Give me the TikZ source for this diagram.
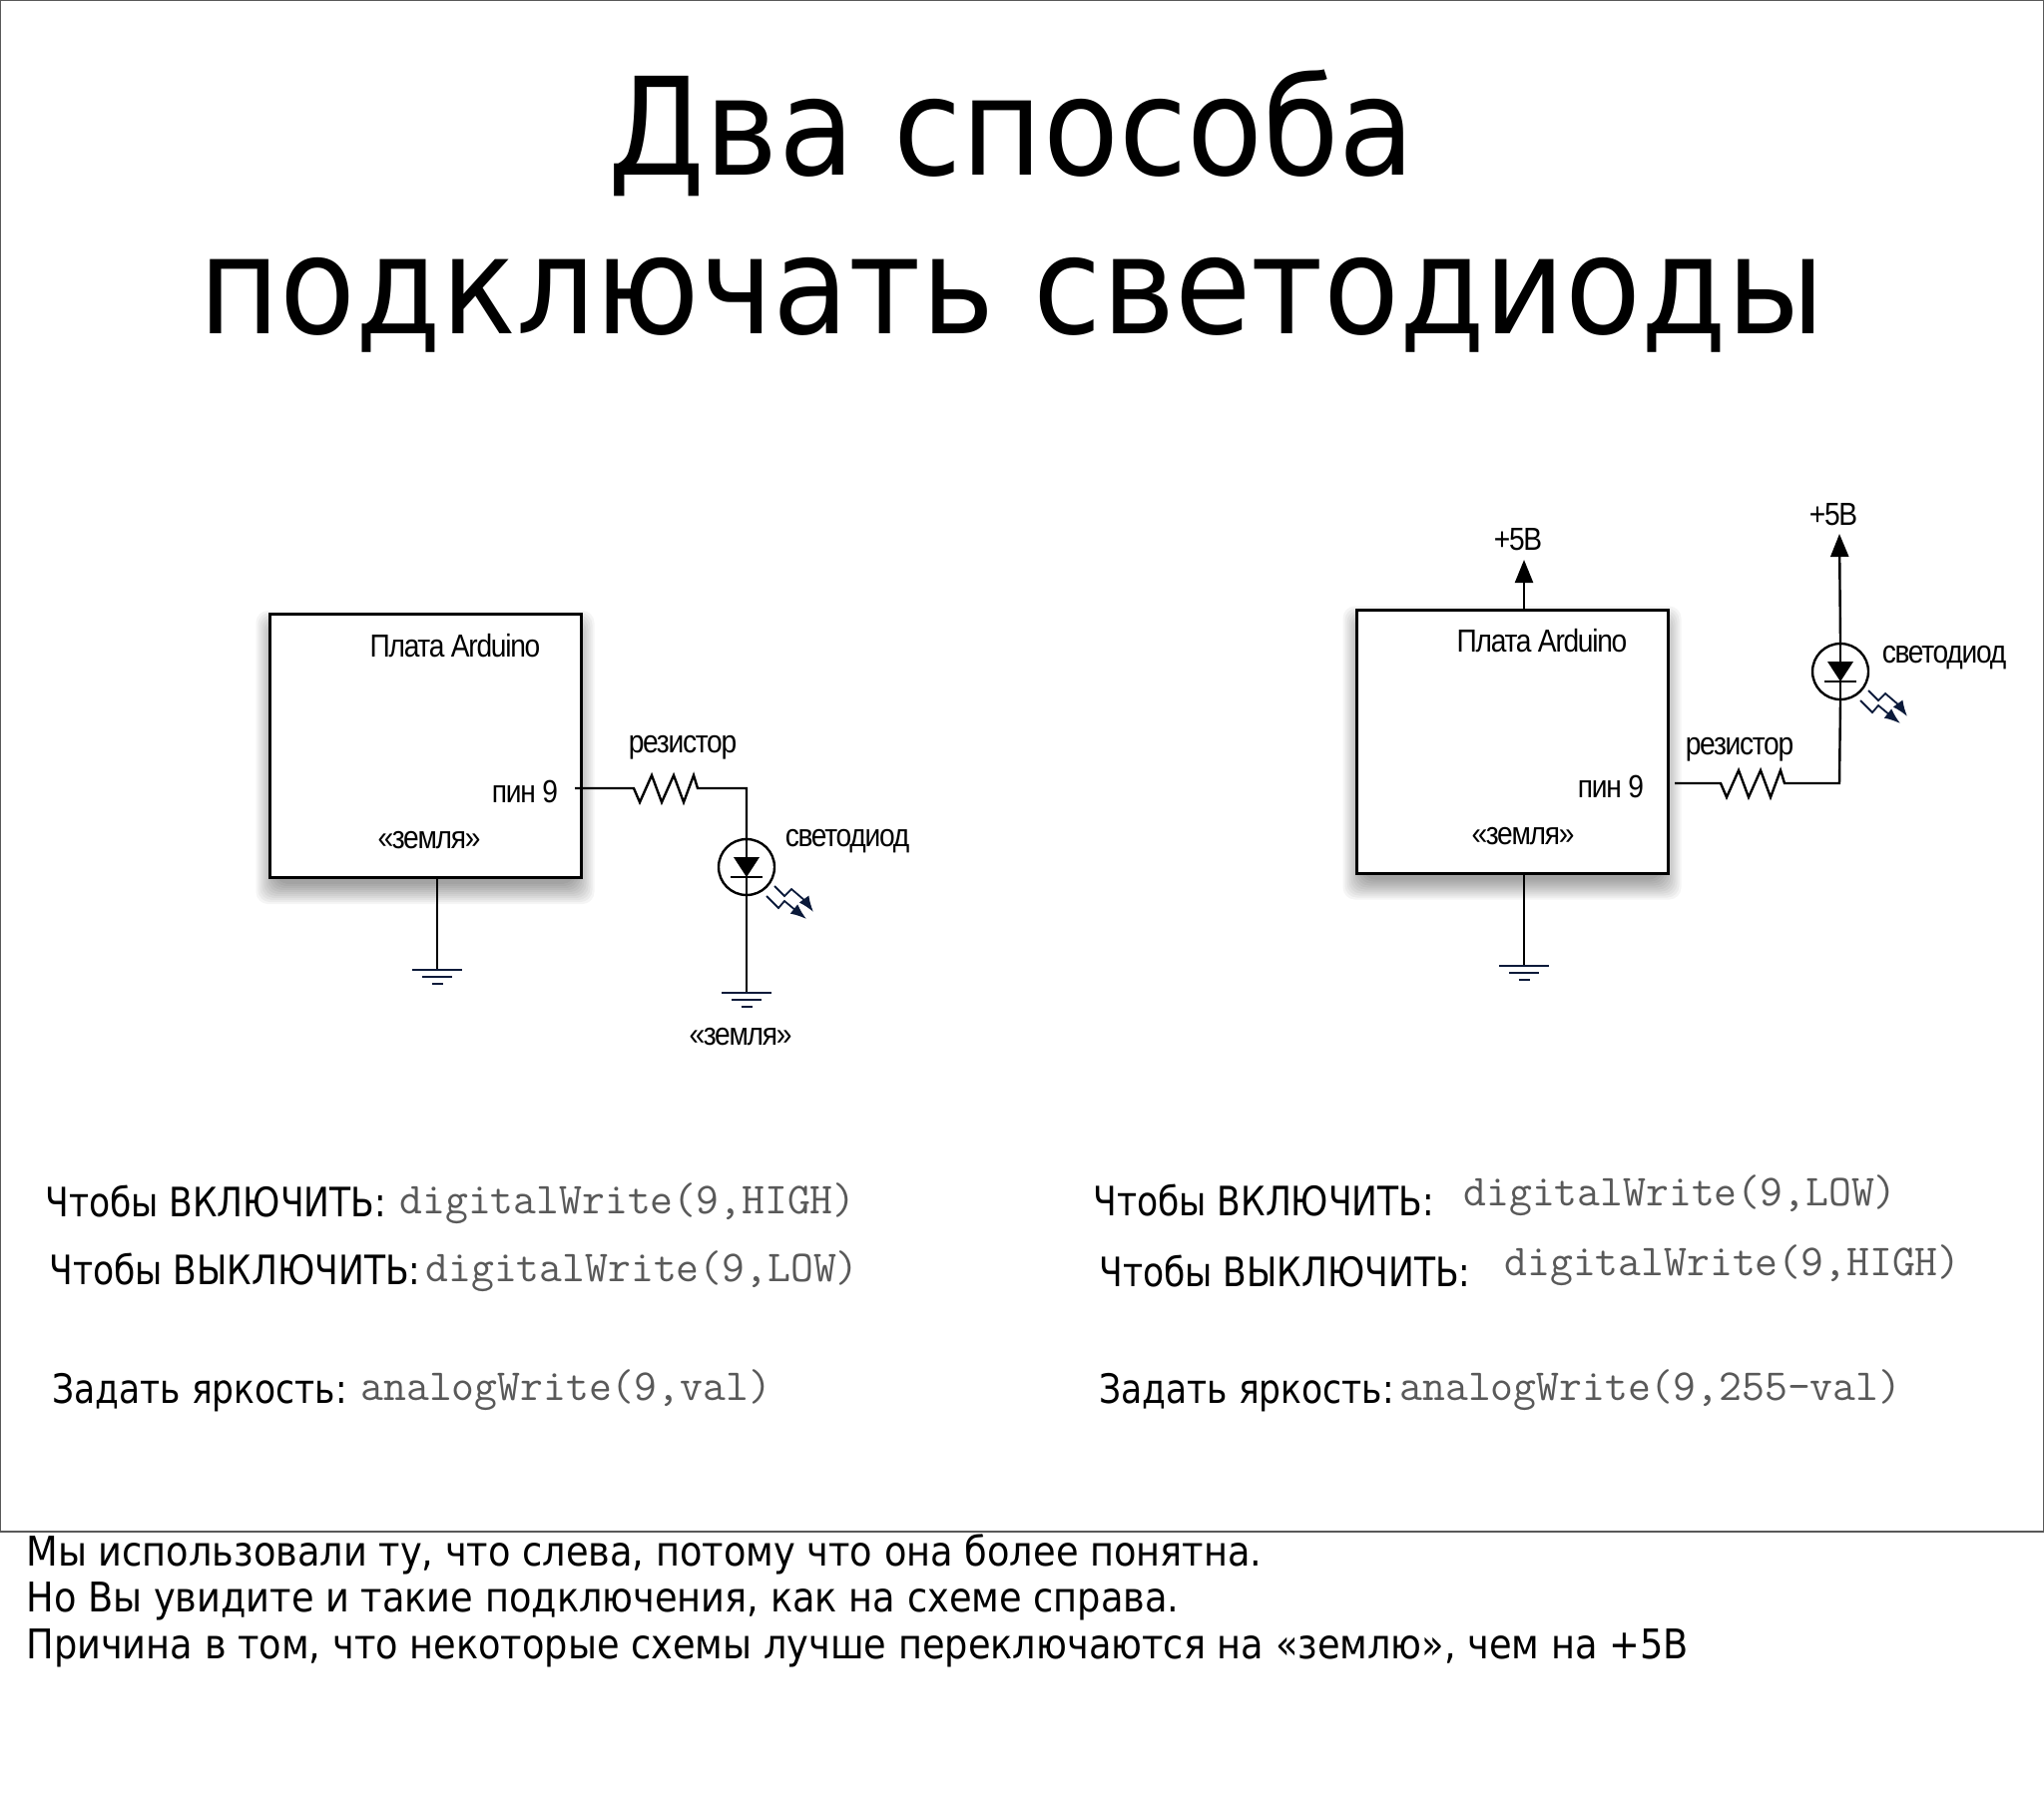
\documentclass[tikz,border=0pt]{standalone}
\usepackage{fontspec}
\setmainfont{DejaVu Sans}
\newfontfamily\labelfont[LetterSpace=-4,FakeStretch=0.88]{Liberation Sans}
\newfontfamily\narrowfont[FakeStretch=0.85]{DejaVu Sans}
\newfontfamily\titlefont[FakeStretch=0.913]{DejaVu Sans}
\newfontfamily\notefont[FakeStretch=0.896]{DejaVu Sans}
\usetikzlibrary{positioning,arrows.meta,calc,backgrounds}
\definecolor{navy}{HTML}{0B1A3A}
\tikzset{
  wire/.style={line width=1.2pt,black},
  gndbar/.style={line width=1.2pt,navy},
  ray/.style={line width=0.9pt,navy,-{Latex[length=8pt,width=6pt]}},
  board/.style={draw,line width=1.5pt,fill=white,minimum width=156pt,minimum height=132pt,inner sep=0pt},
  ledbody/.style={draw,circle,line width=1.2pt,minimum size=28pt,inner sep=0pt},
  diag/.style={font=\labelfont\fontsize{16}{18}\selectfont,inner sep=0pt},
  howto/.style={font=\narrowfont\fontsize{20.3}{24}\selectfont,inner sep=0pt,anchor=base west},
  code/.style={font=\ttfamily\fontsize{22.2}{24}\selectfont,inner sep=0pt,anchor=base west,text=black!65},
  title/.style={font=\titlefont\fontsize{68}{78}\selectfont,inner sep=0pt},
  note/.style={font=\notefont\fontsize{20.5}{24}\selectfont,inner sep=0pt,anchor=base west}
}
\begin{document}
\begin{tikzpicture}[x=0.5pt,y=-0.5pt]
\useasboundingbox (0,0) rectangle (2048,1812);
\draw[black!65,line width=0.8pt] (0.5,0.5) rectangle (2047.5,1535);
\node[title] (title1) at (1014,133) {Два способа};
\node[title] (title2) at (1014,306) {подключать светодиоды};
% left circuit
\node[board] (boardL) at (426,747.5) {};
\node[diag] (nameL) at (456,647) {Плата Arduino};
\node[diag] (pinL) at (526,793) {пин 9};
\node[diag] (earthL) at (430,842) {«земля»};
\node[diag] (resL) at (684,749) {резистор};
\node[diag] (ledtextL) at (849,843) {светодиод};
\node[diag] (earthM) at (742,1039) {«земля»};
\node[ledbody] (ledL) at (748,869) {};
\coordinate (pinLout) at (576,790);
\coordinate (resLa) at (635,790);
\coordinate (resLb) at (699,790);
\coordinate (cornerL) at (748,790);
\coordinate (gndL) at (438,972);
\coordinate (gndM) at (748,995);
% right circuit
\node[board] (boardR) at (1515,743) {};
\node[diag] (nameR) at (1545,642) {Плата Arduino};
\node[diag] (pinR) at (1614,788) {пин 9};
\node[diag] (earthR) at (1526,838) {«земля»};
\node[diag] (resR) at (1743,751) {резистор};
\node[diag] (ledtextR) at (1948,659) {светодиод};
\node[diag] (plusA) at (1521,541) {+5В};
\node[diag] (plusB) at (1837,516) {+5В};
\node[ledbody] (ledR) at (1844,673) {};
\coordinate (pinRout) at (1678,785);
\coordinate (resRa) at (1724,785);
\coordinate (resRb) at (1788,785);
\coordinate (cornerR) at (1843,785);
\coordinate (gndR) at (1527,968);
\coordinate (tipA) at (1527,561);
\coordinate (tipB) at (1843,535);
% shadows
\begin{scope}[on background layer]
\foreach \b in {boardL,boardR}
  \foreach \s in {2,4,...,22}
    \fill[black,opacity=0.04,rounded corners=6pt] ($(\b.north west)+(-\s+10,-\s+20)$) rectangle ($(\b.south east)+(\s-10,\s+3)$);
\end{scope}
% wires
\draw[wire] (pinLout) -- (resLa) -- ++(6,14) -- ++(12,-27) -- ++(10,27) -- ++(12,-27) -- ++(10,27) -- ++(10,-27) -- ++(4,13) -- (cornerL) -- (ledL.north);
\draw[wire] (ledL.north) -- (ledL.south) -- (gndM);
\draw[wire] (boardL.south -| gndL) -- (gndL);
\draw[wire] (pinRout) -- (resRa) -- ++(6,14) -- ++(12,-27) -- ++(10,27) -- ++(12,-27) -- ++(10,27) -- ++(10,-27) -- ++(4,13) -- (cornerR) -- (ledR.south);
\draw[wire] (ledR.south) -- (ledR.north);
\draw[wire] (boardR.south -| gndR) -- (gndR);
\draw[wire,-{Triangle[length=11.5pt,width=9pt]}] (boardR.north -| tipA) -- (tipA);
\draw[wire,-{Triangle[length=11.5pt,width=9pt]}] (ledR.north) -- (tipB);
% symbols
\foreach \g in {gndL,gndM,gndR} {
  \draw[gndbar] (\g) ++(-25,0) -- ++(50,0);
  \draw[gndbar] (\g) ++(-15,7) -- ++(30,0);
  \draw[gndbar] (\g) ++(-5.5,14) -- ++(11,0);
}
\foreach \n in {ledL,ledR} {
  \fill[black] (\n.center) ++(-13,-10) -- ++(26,0) -- ++(-13,20) -- cycle;
  \draw[wire] (\n.center) ++(-16,10) -- ++(32,0);
  \draw[ray] (\n.center) ++(28,19) -- ++(10,10) -- ++(7,-7) -- ++(14,12) -- ++(8,11);
  \draw[ray] (\n.center) ++(20,29) -- ++(12,12) -- ++(6,-7) -- ++(12,10) -- ++(10,8);
}
% how to switch
\node[howto] (onL) at (45,1219) {Чтобы ВКЛЮЧИТЬ:};
\node[code] (oncodeL) at (400,1216) {digitalWrite(9,HIGH)};
\node[howto] (offL) at (49,1287) {Чтобы ВЫКЛЮЧИТЬ:};
\node[code] (offcodeL) at (426,1284) {digitalWrite(9,LOW)};
\node[howto] (dimL) at (52,1406) {Задать яркость:};
\node[code] (dimcodeL) at (361,1403) {analogWrite(9,val)};
\node[howto] (onR) at (1095,1218) {Чтобы ВКЛЮЧИТЬ:};
\node[code] (oncodeR) at (1466,1208) {digitalWrite(9,LOW)};
\node[howto] (offR) at (1101,1289) {Чтобы ВЫКЛЮЧИТЬ:};
\node[code] (offcodeR) at (1507,1278) {digitalWrite(9,HIGH)};
\node[howto] (dimR) at (1101,1406) {Задать яркость:};
\node[code] (dimcodeR) at (1402,1403) {analogWrite(9,255-val)};
% notes
\node[note] (note1) at (26,1569) {Мы использовали ту, что слева, потому что она более понятна.};
\node[note] (note2) at (26,1615) {Но Вы увидите и такие подключения, как на схеме справа.};
\node[note] (note3) at (26,1662) {Причина в том, что некоторые схемы лучше переключаются на «землю», чем на +5В};
\end{tikzpicture}
\end{document}
